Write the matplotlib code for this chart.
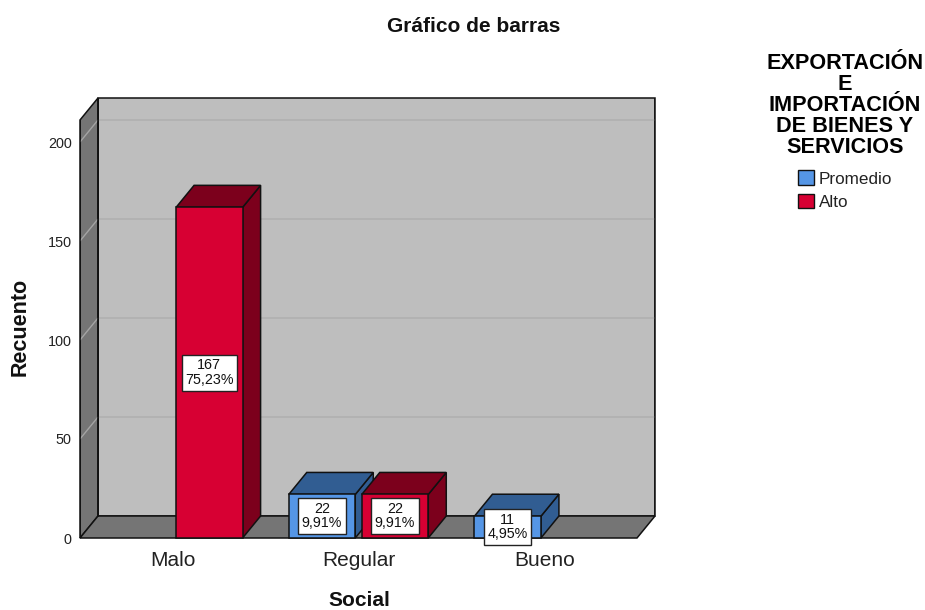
import matplotlib
matplotlib.use("Agg")
import matplotlib.pyplot as plt
from matplotlib.patches import Polygon, Patch

plt.rcParams['font.family'] = ['Liberation Sans', 'DejaVu Sans']

categories = ["Malo", "Regular", "Bueno"]
series_names = ["Promedio", "Alto"]
promedio_counts = [None, 22, 11]
alto_counts = [167, 22, None]
promedio_pct = [None, "9,91%", "4,95%"]
alto_pct = ["75,23%", "9,91%", None]
y_ticks = [0, 50, 100, 150, 200]

BLUE, BLUE_D = "#5596e6", "#315d92"
RED, RED_D = "#d70033", "#7c001c"
WALL, BACK, GRID = "#757575", "#bebebe", "#b0b0b0"

W, H = 925, 610
fig = plt.figure(figsize=(W / 100, H / 100), dpi=100)
L, R, T, B = 80, 655, 98, 538
ax = fig.add_axes([L / W, 1 - B / H, (R - L) / W, (B - T) / H])

# scales: 185.67 px per category, 1.98 px per count
XMIN = -0.5
XMAX = XMIN + (R - L) / 185.67
YMAX = (B - T) / 1.98
ax.set_xlim(XMIN, XMAX)
ax.set_ylim(0, YMAX)
DX = 18 / 185.67
DY = 22 / 1.98
FRONT_R = 2.5
YTOP = YMAX - DY
BW = 66.5 / 185.67
OFF = 36.5 / 185.67

lw = 1.1
def poly(pts, fc, z, ec="#111111", lw_=lw):
    ax.add_patch(Polygon(pts, closed=True, fc=fc, ec=ec, lw=lw_, zorder=z,
                         clip_on=False, joinstyle="miter"))

# back wall, left wall, floor
poly([(XMIN + DX, DY), (FRONT_R + DX, DY), (FRONT_R + DX, YMAX), (XMIN + DX, YMAX)], BACK, 1)
poly([(XMIN, 0), (XMIN + DX, DY), (XMIN + DX, YMAX), (XMIN, YTOP)], WALL, 1.2)
poly([(XMIN, 0), (FRONT_R, 0), (FRONT_R + DX, DY), (XMIN + DX, DY)], WALL, 1.2)

# gridlines on the back wall and left wall
for v in y_ticks[1:]:
    ax.plot([XMIN + DX, FRONT_R + DX], [v + DY, v + DY], color=GRID, lw=1.2, zorder=1.1,
            solid_capstyle="butt")
    ax.plot([XMIN, XMIN + DX], [v, v + DY], color="#a4a4a4", lw=1.0, zorder=1.3,
            solid_capstyle="butt")
ax.plot([XMIN + DX, XMIN + DX], [DY, YMAX], color="#111111", lw=1.2, zorder=1.4)
ax.plot([FRONT_R + DX, FRONT_R + DX], [DY, YMAX], color="#111111", lw=1.2, zorder=1.4)
ax.plot([XMIN, XMIN], [0, YTOP], color="#111111", lw=1.2, zorder=1.4)


def bar3d(cx, v, face, dark, z):
    x0, x1 = cx - BW / 2, cx + BW / 2
    poly([(x1, 0), (x1 + DX, DY), (x1 + DX, v + DY), (x1, v)], dark, z)
    poly([(x0, v), (x1, v), (x1 + DX, v + DY), (x0 + DX, v + DY)], dark, z)
    poly([(x0, 0), (x1, 0), (x1, v), (x0, v)], face, z + 0.1)


def label(cx, v, pct):
    ax.text(cx, v / 2, f"{v}\n{pct}", ha="center", va="center", fontsize=10.3,
            linespacing=1.05, color="#111111", zorder=20,
            bbox=dict(boxstyle="square,pad=0.25", fc="white", ec="#222222", lw=1.0))


for i in range(len(categories)):
    if promedio_counts[i] is not None:
        bar3d(i - OFF, promedio_counts[i], BLUE, BLUE_D, 3 + i)
    if alto_counts[i] is not None:
        bar3d(i + OFF, alto_counts[i], RED, RED_D, 3.5 + i)
for i in range(len(categories)):
    if promedio_counts[i] is not None:
        label(i - OFF, promedio_counts[i], promedio_pct[i])
    if alto_counts[i] is not None:
        label(i + OFF, alto_counts[i], alto_pct[i])

for s in ax.spines.values():
    s.set_visible(False)
ax.patch.set_visible(False)
ax.set_xticks(range(len(categories)), categories)
ax.set_yticks(y_ticks)
ax.tick_params(axis="x", length=0, pad=9, labelsize=15, labelcolor="#222222")
ax.tick_params(axis="y", length=0, pad=6, labelsize=10.4, labelcolor="#222222")

fig.text(473.5 / W, 1 - 27 / H, "Gráfico de barras", ha="center", va="center",
         fontsize=15, fontweight="bold", color="#111111")
fig.text(20 / W, 1 - 327 / H, "Recuento", rotation=90, ha="center", va="center",
         fontsize=15.5, fontweight="bold", color="#111111")
fig.text(359 / W, 1 - 601 / H, "Social", ha="center", va="center",
         fontsize=15, fontweight="bold", color="#111111")

handles = [Patch(fc=BLUE, ec="#111111", lw=1.0), Patch(fc=RED, ec="#111111", lw=1.0)]
leg = fig.legend(handles, series_names,
                 title="EXPORTACIÓN\nE\nIMPORTACIÓN\nDE BIENES Y\nSERVICIOS",
                 title_fontproperties=dict(size=15.6, weight="bold"),
                 loc="upper center", bbox_to_anchor=(845 / W, 1 - 39 / H),
                 frameon=False, fontsize=12.3, handlelength=0.94, handleheight=0.94,
                 labelspacing=0.42, handletextpad=0.25, borderpad=0.3, labelcolor="#222222")
leg.get_title().set_linespacing(1.0)
leg.get_title().set_ha("center")
leg._legend_box.sep = 9.2

fig.savefig("out.png", dpi=100)
